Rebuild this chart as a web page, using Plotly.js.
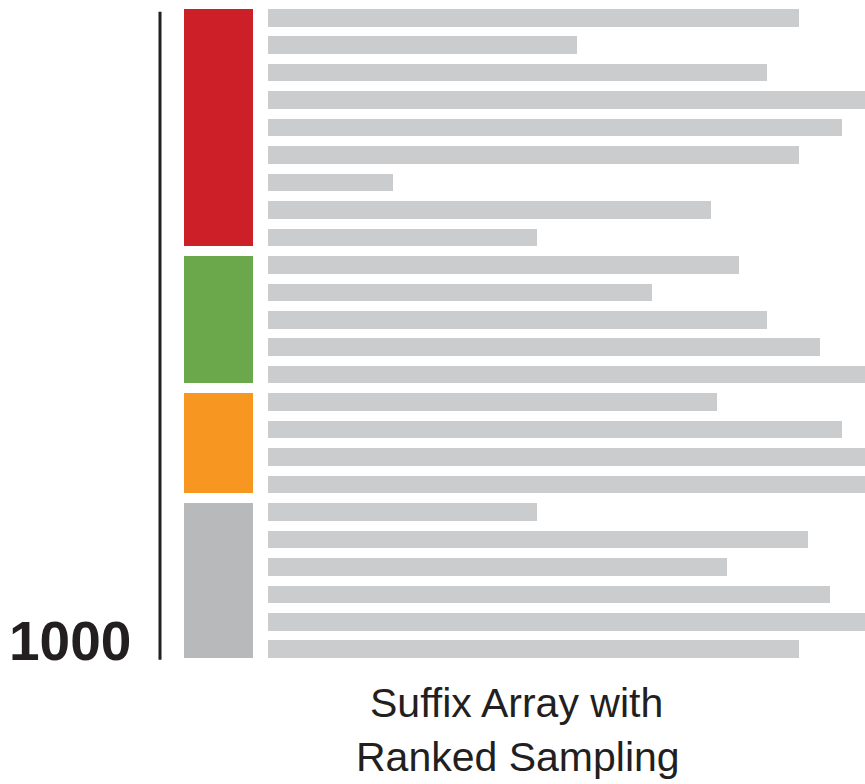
<!DOCTYPE html>
<html>
<head>
<meta charset="utf-8">
<script src="https://cdn.plot.ly/plotly-3.0.1.min.js"></script>
<style>html,body{margin:0;padding:0;background:#fff;}#chart{width:865px;height:784px;}</style>
</head>
<body>
<div id="chart"></div>
<script>
// Row indices (top to bottom) and bar lengths of the sampled suffix entries
const rows = [1,2,3,4,5,6,7,8,9,10,11,12,13,14,15,16,17,18,19,20,21,22,23,24];
const sampleValues = [531,309,499,600,574,531,125,443,269,471,384,499,552,600,449,574,600,600,269,540,459,562,600,531];

// Colour groups: first and last row covered by each group block
const groupNames = ['red','green','orange','gray'];
const groupStart = [1,10,15,19];
const groupEnd = [9,14,18,24];
const groupColors = ['#CC1F28','#6AA84B','#F79722','#B8B9BB'];

const labelValue = '1000';
const titleLines = ['Suffix Array with', 'Ranked Sampling'];

const W = 865;
const barW = 0.64;

const traces = [
  {
    type: 'bar', orientation: 'h',
    y: rows, x: sampleValues, width: barW,
    marker: {color: '#CBCCCE', line: {width: 0}},
    xaxis: 'x', yaxis: 'y', hoverinfo: 'none', showlegend: false
  },
  {
    type: 'bar', orientation: 'v',
    x: groupNames.map(() => 0),
    base: groupStart.map(s => s - barW / 2),
    y: groupStart.map((s, i) => groupEnd[i] - s + barW),
    width: 1,
    marker: {color: groupColors, line: {width: 0}},
    xaxis: 'x2', yaxis: 'y', hoverinfo: 'none', showlegend: false
  }
];

const titleFont = {family: 'Liberation Sans, Arial, sans-serif', size: 41, color: '#231F20'};
const layout = {
  width: 865, height: 784,
  margin: {l: 0, r: 0, t: 4, b: 121},
  paper_bgcolor: '#fff', plot_bgcolor: 'rgba(0,0,0,0)',
  showlegend: false,
  bargap: 0,
  xaxis: {domain: [268 / W, 1], range: [0, 597], visible: false, fixedrange: true},
  xaxis2: {domain: [184 / W, 253 / W], range: [-0.5, 0.5], visible: false, anchor: 'y'},
  yaxis: {range: [24.5, 0.5], visible: false},
  shapes: [
    {type: 'line', xref: 'paper', yref: 'y', x0: 160 / W, x1: 160 / W, y0: 0.78, y1: 24.38,
     line: {color: '#231F20', width: 3}}
  ],
  annotations: [
    {text: labelValue, xref: 'paper', yref: 'paper', x: 133 / W, y: 0.034,
     xanchor: 'right', yanchor: 'middle', showarrow: false,
     font: {family: 'Liberation Sans, Arial, sans-serif', size: 55, color: '#231F20', weight: 'bold'}},
    {text: titleLines[0], xref: 'paper', yref: 'paper', x: 516 / W, y: (663 - 703) / 659,
     xanchor: 'center', yanchor: 'middle', showarrow: false, font: titleFont},
    {text: titleLines[1], xref: 'paper', yref: 'paper', x: 518 / W, y: (663 - 757) / 659,
     xanchor: 'center', yanchor: 'middle', showarrow: false, font: titleFont}
  ]
};

Plotly.newPlot('chart', traces, layout, {staticPlot: true, displayModeBar: false});
</script>
</body>
</html>
